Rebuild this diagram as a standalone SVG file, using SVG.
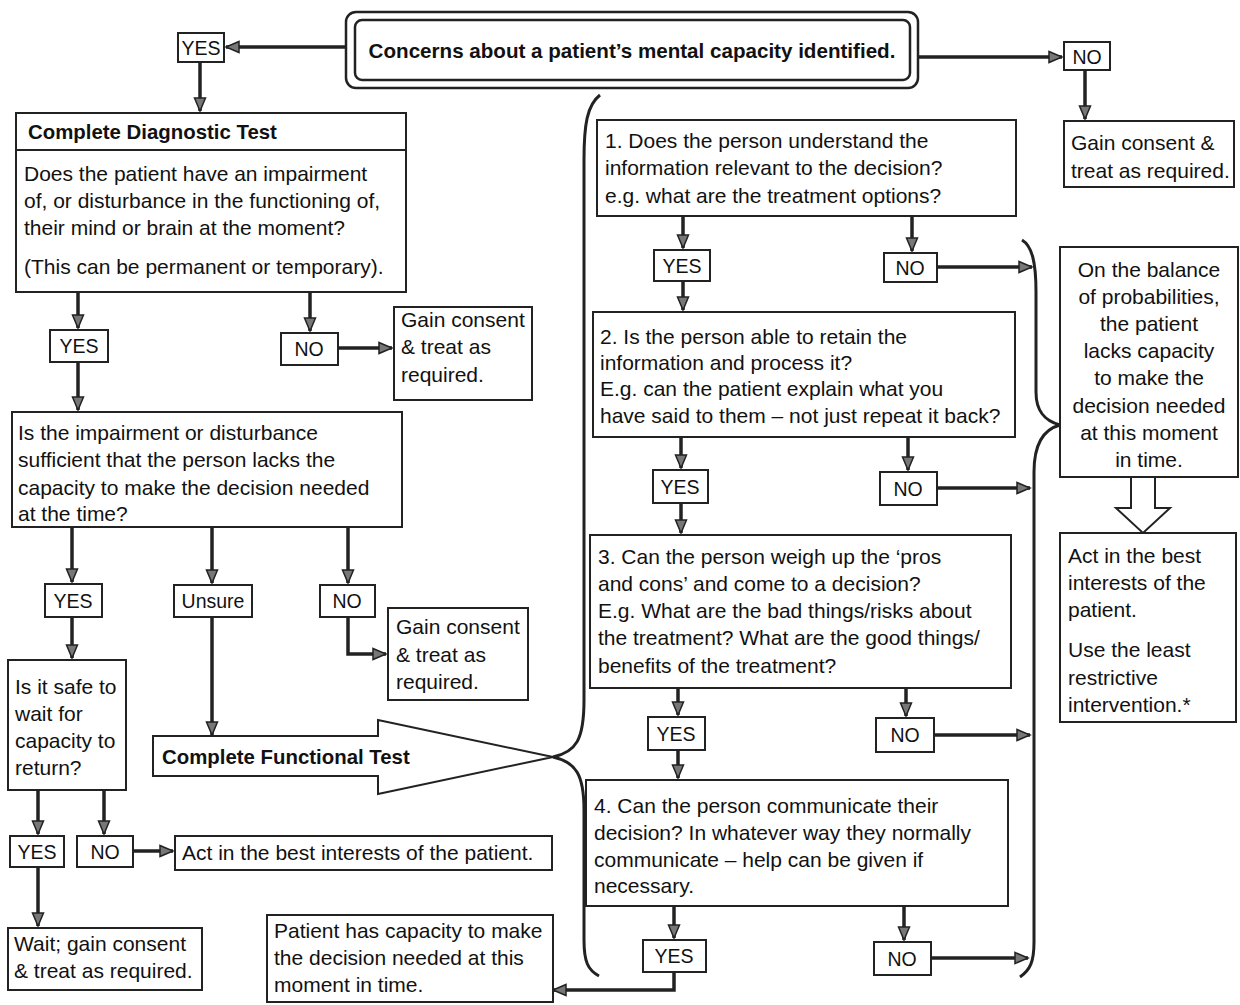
<svg xmlns="http://www.w3.org/2000/svg" width="1240" height="1005" viewBox="0 0 1240 1005">
<defs>
<marker id="ah" markerUnits="userSpaceOnUse" markerWidth="16" markerHeight="14" refX="14" refY="7" orient="auto">
<path d="M1,1.5 L14,7 L1,12.5 z" fill="#777" stroke="#222" stroke-width="1.5"/>
</marker>
<style>
text{font-family:"Liberation Sans",Arial,sans-serif;font-size:21px;fill:#111}
.b{font-weight:bold;font-size:20.4px}
.c{text-anchor:middle}
.l{font-size:19.5px}
.box{fill:#fff;stroke:#222;stroke-width:2}
.ar{fill:none;stroke:#222;stroke-width:3.5;marker-end:url(#ah)}
.br{fill:none;stroke:#222;stroke-width:3}
</style>
</defs>
<rect width="1240" height="1005" fill="#fff"/>

<g id="connectors">
<path class="ar" d="M346,47 L226,47"/>
<path class="ar" d="M918,57 L1062,57"/>
<path class="ar" d="M1085,70 L1085,119"/>
<path class="ar" d="M200,62 L200,111"/>
<path class="ar" d="M78,292 L78,328"/>
<path class="ar" d="M310,292 L310,331"/>
<path class="ar" d="M338,348 L392,348"/>
<path class="ar" d="M78,362 L78,410"/>
<path class="ar" d="M72,527 L72,582"/>
<path class="ar" d="M212,527 L212,583"/>
<path class="ar" d="M348,527 L348,583"/>
<path class="ar" d="M348,617 L348,654 L386,654"/>
<path class="ar" d="M72,617 L72,658"/>
<path class="ar" d="M212,617 L212,735"/>
<path class="ar" d="M38,790 L38,834"/>
<path class="ar" d="M104,790 L104,834"/>
<path class="ar" d="M133,851 L173,851"/>
<path class="ar" d="M38,867 L38,926"/>
<path class="ar" d="M683,216 L683,248"/>
<path class="ar" d="M912,216 L912,251"/>
<path class="ar" d="M937,267 L1032,267"/>
<path class="ar" d="M683,281 L683,310"/>
<path class="ar" d="M681,437 L681,468"/>
<path class="ar" d="M908,437 L908,470"/>
<path class="ar" d="M937,488 L1030,488"/>
<path class="ar" d="M681,503 L681,533"/>
<path class="ar" d="M678,688 L678,715"/>
<path class="ar" d="M906,688 L906,716"/>
<path class="ar" d="M934,735 L1030,735"/>
<path class="ar" d="M678,750 L678,778"/>
<path class="ar" d="M674,906 L674,938"/>
<path class="ar" d="M904,906 L904,940"/>
<path class="ar" d="M931,958 L1028,958"/>
<path class="ar" d="M674,972 L674,990 L553,990"/>
<path class="br" d="M600,95 C587,105 584,125 584,160 L584,700 C584,740 576,752 553,757 C576,762 584,775 584,810 L584,940 C584,962 588,970 599,976"/>
<path class="br" d="M1022,240 C1032,246 1036,262 1036,292 L1036,392 C1036,412 1045,421 1060,425 C1045,429 1034,442 1034,472 L1034,942 C1034,962 1030,970 1020,977"/>
<polygon points="1131,477 1155,477 1155,508 1170,508 1143,533 1116,508 1131,508" fill="#fff" stroke="#222" stroke-width="2"/>
</g>

<g id="start">
<rect x="346" y="12" width="572" height="76" rx="10" fill="#fff" stroke="#222" stroke-width="2.5"/>
<rect x="355" y="20" width="555" height="60" rx="7" fill="#fff" stroke="#222" stroke-width="2.5"/>
<text class="b c" x="632" y="58" style="font-size:20.6px">Concerns about a patient’s mental capacity identified.</text>
</g>

<g id="yes-top"><rect class="box" x="178" y="33" width="46" height="29"/><text class="c l" x="201" y="55">YES</text></g>
<g id="no-top"><rect class="box" x="1064" y="42" width="46" height="28"/><text class="c l" x="1087" y="64">NO</text></g>
<g id="gain-top"><rect class="box" x="1064" y="121" width="170" height="66"/>
<text x="1071" y="150">Gain consent &amp;</text><text x="1071" y="178">treat as required.</text></g>

<g id="diagnostic">
<rect class="box" x="16" y="113" width="390" height="179"/>
<line x1="16" y1="150" x2="406" y2="150" stroke="#222" stroke-width="2"/>
<text class="b" x="28" y="139">Complete Diagnostic Test</text>
<text x="24" y="181">Does the patient have an impairment</text>
<text x="24" y="208">of, or disturbance in the functioning of,</text>
<text x="24" y="235">their mind or brain at the moment?</text>
<text x="24" y="274">(This can be permanent or temporary).</text>
</g>

<g id="yes-1"><rect class="box" x="50" y="330" width="58" height="32"/><text class="c l" x="79" y="353">YES</text></g>
<g id="no-1"><rect class="box" x="281" y="333" width="57" height="32"/><text class="c l" x="309" y="356">NO</text></g>
<g id="gain-1"><rect class="box" x="394" y="307" width="138" height="93"/>
<text x="401" y="327">Gain consent</text><text x="401" y="354">&amp; treat as</text><text x="401" y="382">required.</text></g>

<g id="sufficient">
<rect class="box" x="12" y="412" width="390" height="115"/>
<text x="18" y="440">Is the impairment or disturbance</text>
<text x="18" y="467">sufficient that the person lacks the</text>
<text x="18" y="495">capacity to make the decision needed</text>
<text x="18" y="521">at the time?</text>
</g>

<g id="yes-2"><rect class="box" x="45" y="584" width="57" height="33"/><text class="c l" x="73" y="608">YES</text></g>
<g id="unsure"><rect class="box" x="174" y="585" width="78" height="32"/><text class="c l" x="213" y="608">Unsure</text></g>
<g id="no-2"><rect class="box" x="320" y="585" width="55" height="32"/><text class="c l" x="347" y="608">NO</text></g>
<g id="gain-2"><rect class="box" x="388" y="608" width="140" height="92"/>
<text x="396" y="634">Gain consent</text><text x="396" y="662">&amp; treat as</text><text x="396" y="689">required.</text></g>

<g id="safe">
<rect class="box" x="8" y="660" width="118" height="130"/>
<text x="15" y="694">Is it safe to</text><text x="15" y="721">wait for</text><text x="15" y="748">capacity to</text><text x="15" y="775">return?</text>
</g>

<g id="functional">
<polygon points="153,736 378,736 378,720 553,757 378,794 378,776 153,776" fill="#fff" stroke="#222" stroke-width="2"/>
<text class="b" x="162" y="764">Complete Functional Test</text>
</g>

<g id="yes-3"><rect class="box" x="10" y="836" width="54" height="31"/><text class="c l" x="37" y="859">YES</text></g>
<g id="no-3"><rect class="box" x="77" y="836" width="56" height="31"/><text class="c l" x="105" y="859">NO</text></g>
<g id="act-1"><rect class="box" x="175" y="836" width="377" height="34"/><text x="182" y="860">Act in the best interests of the patient.</text></g>
<g id="wait"><rect class="box" x="8" y="928" width="194" height="62"/>
<text x="14" y="951">Wait; gain consent</text><text x="14" y="978">&amp; treat as required.</text></g>
<g id="has-capacity"><rect class="box" x="267" y="915" width="286" height="87"/>
<text x="274" y="938">Patient has capacity to make</text><text x="274" y="965">the decision needed at this</text><text x="274" y="992">moment in time.</text></g>

<g id="q1"><rect class="box" x="597" y="120" width="419" height="96"/>
<text x="605" y="148">1. Does the person understand the</text>
<text x="605" y="175">information relevant to the decision?</text>
<text x="605" y="203">e.g. what are the treatment options?</text></g>
<g id="q1-yes"><rect class="box" x="654" y="250" width="56" height="31"/><text class="c l" x="682" y="273">YES</text></g>
<g id="q1-no"><rect class="box" x="884" y="253" width="53" height="29"/><text class="c l" x="910" y="275">NO</text></g>

<g id="q2"><rect class="box" x="593" y="312" width="422" height="125"/>
<text x="600" y="344">2. Is the person able to retain the</text>
<text x="600" y="370">information and process it?</text>
<text x="600" y="396">E.g. can the patient explain what you</text>
<text x="600" y="423">have said to them – not just repeat it back?</text></g>
<g id="q2-yes"><rect class="box" x="653" y="470" width="55" height="33"/><text class="c l" x="680" y="494">YES</text></g>
<g id="q2-no"><rect class="box" x="880" y="472" width="57" height="33"/><text class="c l" x="908" y="496">NO</text></g>

<g id="q3"><rect class="box" x="590" y="535" width="421" height="153"/>
<text x="598" y="564">3. Can the person weigh up the ‘pros</text>
<text x="598" y="591">and cons’ and come to a decision?</text>
<text x="598" y="618">E.g. What are the bad things/risks about</text>
<text x="598" y="645">the treatment? What are the good things/</text>
<text x="598" y="673">benefits of the treatment?</text></g>
<g id="q3-yes"><rect class="box" x="648" y="717" width="57" height="33"/><text class="c l" x="676" y="741">YES</text></g>
<g id="q3-no"><rect class="box" x="876" y="718" width="58" height="34"/><text class="c l" x="905" y="742">NO</text></g>

<g id="q4"><rect class="box" x="586" y="780" width="422" height="126"/>
<text x="594" y="813">4. Can the person communicate their</text>
<text x="594" y="840">decision? In whatever way they normally</text>
<text x="594" y="867">communicate – help can be given if</text>
<text x="594" y="893">necessary.</text></g>
<g id="q4-yes"><rect class="box" x="643" y="940" width="63" height="32"/><text class="c l" x="674" y="963">YES</text></g>
<g id="q4-no"><rect class="box" x="874" y="942" width="57" height="33"/><text class="c l" x="902" y="966">NO</text></g>

<g id="lacks"><rect class="box" x="1060" y="247" width="178" height="230"/>
<text class="c" x="1149" y="277">On the balance</text>
<text class="c" x="1149" y="304">of probabilities,</text>
<text class="c" x="1149" y="331">the patient</text>
<text class="c" x="1149" y="358">lacks capacity</text>
<text class="c" x="1149" y="385">to make the</text>
<text class="c" x="1149" y="413">decision needed</text>
<text class="c" x="1149" y="440">at this moment</text>
<text class="c" x="1149" y="467">in time.</text></g>

<g id="act-2"><rect class="box" x="1060" y="533" width="176" height="189"/>
<text x="1068" y="563">Act in the best</text>
<text x="1068" y="590">interests of the</text>
<text x="1068" y="617">patient.</text>
<text x="1068" y="657">Use the least</text>
<text x="1068" y="685">restrictive</text>
<text x="1068" y="712">intervention.*</text></g>
</svg>
